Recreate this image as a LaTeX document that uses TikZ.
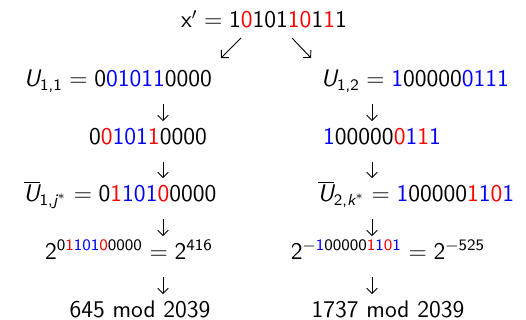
\documentclass[tikz,border=0pt]{standalone}
\usepackage{amsmath}
\usetikzlibrary{arrows.meta,calc}

% 彩色比特
\newcommand{\rb}[1]{{\color{red}#1}}
\newcommand{\bb}[1]{{\color{blue}#1}}
\newcommand{\itU}{\text{\itshape U}}

\begin{document}
\begin{tikzpicture}[x=0.5pt,y=-0.5pt,
    every node/.style={font=\sffamily\large, inner sep=0pt, anchor=base},
    arr/.style={-{Straight Barb[length=2.6pt,width=5.4pt]}, line width=0.45pt}]
    \useasboundingbox (0,0) rectangle (526,320);

    % 两列箭头的位置
    \coordinate (lc) at (163,0);
    \coordinate (rc) at (372,0);

    % 顶部
    \node (top) at (264,28) {$\text{x}' = \text{1\rb{0}101\rb{10}1\rb{1}1}$};
    \draw[arr] ($(top.base)+(-23,10)$) -- ++(-20,20);
    \draw[arr] ($(top.base)+(28,10)$) -- ++(19,20);

    % 左列
    \node (u11) at (118,87) {$\itU_{\text{1,1}} = \text{0\bb{01011}0000}$};
    \node (l2) at (148,145) {0\rb{0}\bb{101}\rb{1}0000};
    \node (l3) at (120,202) {$\overline{\itU}_{\text{1,\itshape j}^{*}} = \text{0\rb{1}\bb{101}\rb{0}0000}$};
    \node (l4) at (129,260) {$\text{2}^{\text{0\rb{1}\bb{101}\rb{0}0000}} = \text{2}^{\text{416}}$};
    \node (l5) at (140,318) {645 mod 2039};

    % 右列
    \node (u12) at (415,87) {$\itU_{\text{1,2}} = \text{\bb{1}00000\bb{0111}}$};
    \node (r2) at (382,145) {\bb{1}00000\rb{0}\bb{1}\rb{1}\bb{1}};
    \node (r3) at (416,202) {$\overline{\itU}_{\text{2,\itshape k}^{*}} = \text{\bb{1}00000\rb{1}\bb{1}\rb{0}\bb{1}}$};
    \node (r4) at (388,260) {$\text{2}^{-\text{\bb{1}00000\rb{1}\bb{1}\rb{0}\bb{1}}} = \text{2}^{-\text{525}}$};
    \node (r5) at (388,318) {1737 mod 2039};

    % 竖直箭头
    \foreach \a/\b in {u11/l2, l2/l3, l3/l4, l4/l5} {
        \draw[arr] ($(\a.base -| lc)+(0,17)$) -- ($(\b.base -| lc)+(0,-24)$);
    }
    \foreach \a/\b in {u12/r2, r2/r3, r3/r4, r4/r5} {
        \draw[arr] ($(\a.base -| rc)+(0,17)$) -- ($(\b.base -| rc)+(0,-24)$);
    }
\end{tikzpicture}
\end{document}
